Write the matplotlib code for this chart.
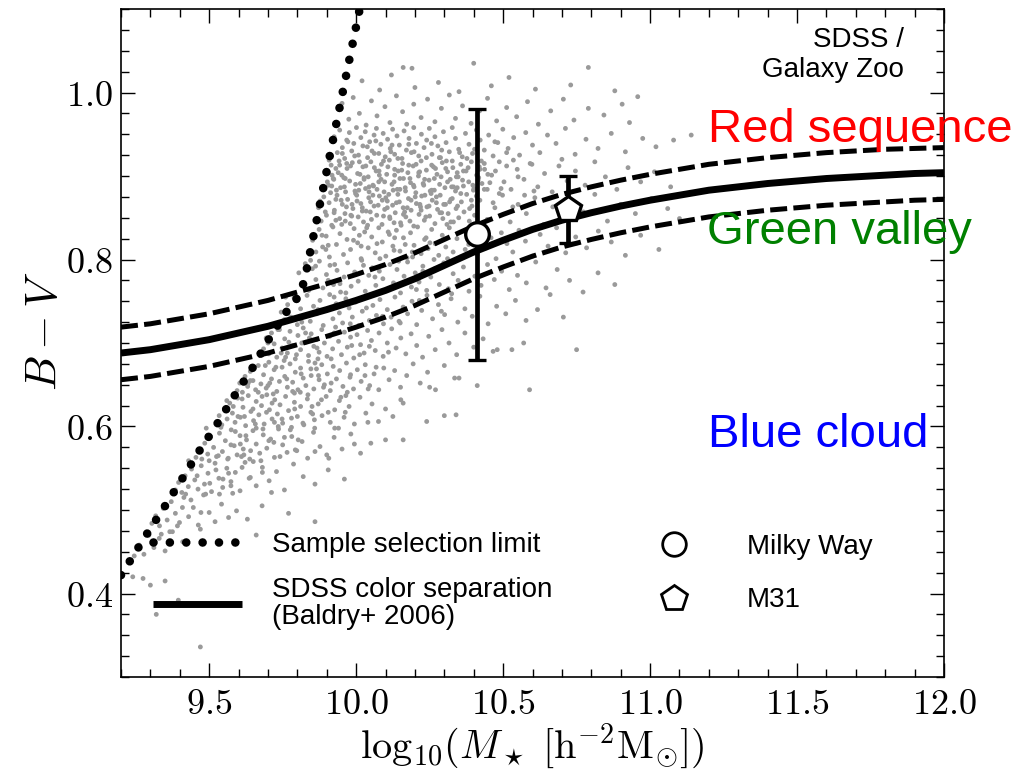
import numpy as np
import matplotlib
matplotlib.use("Agg")
import matplotlib.pyplot as plt
from matplotlib.ticker import MultipleLocator, FuncFormatter
from matplotlib.lines import Line2D

plt.rcParams['mathtext.fontset'] = 'cm'
plt.rcParams['font.family'] = ['Liberation Sans', 'DejaVu Sans']

# ---------------- data ----------------
# SDSS / Galaxy Zoo galaxies (log10 M*, B-V)
red_sequence_pts = [
 (10.02,1.014),(10.08,1.003),(10.16,1.030),(10.19,1.029),(10.20,1.006),(10.40,1.035),(10.28,1.012),(10.52,1.018),
 (10.61,1.004),(10.73,1.009),(10.79,1.030),(10.88,1.002),(10.35,1.001),(10.12,1.021),(10.46,1.008),
 (9.952,0.987),(9.975,0.968),(9.990,0.994),(10.011,0.975),(10.034,0.961),(10.052,0.990),(10.071,0.972),(10.098,0.983),
 (10.115,0.964),(10.137,0.996),(10.158,0.977),(10.172,0.962),(10.196,0.986),(10.221,0.970),(10.243,0.992),(10.268,0.965),
 (10.290,0.981),(10.317,0.997),(10.338,0.969),(10.362,0.984),(10.391,0.963),(10.420,0.978),(10.447,0.993),(10.478,0.966),
 (10.512,0.982),(10.546,0.971),(10.583,0.989),(10.620,0.962),(10.662,0.978),(10.705,0.992),(10.741,0.967),(10.790,0.981),
 (10.843,0.973),(10.905,0.986),(10.958,0.995),(10.930,0.964),
 (9.925,.947),(9.936,.928),(9.944,.955),(9.953,.934),(9.961,.921),(9.968,.943),(9.977,.952),(9.985,.930),(9.992,.939),
 (10.001,.958),(10.008,.925),(10.016,.946),(10.023,.936),(10.031,.953),(10.039,.922),(10.046,.941),(10.054,.930),
 (10.061,.949),(10.069,.957),(10.077,.927),(10.084,.938),(10.092,.951),(10.099,.923),(10.107,.944),(10.116,.933),
 (10.124,.956),(10.131,.926),(10.139,.948),(10.147,.937),(10.156,.921),(10.163,.954),(10.171,.931),(10.180,.945),
 (10.188,.928),(10.196,.958),(10.205,.939),(10.213,.924),(10.222,.950),(10.231,.934),(10.240,.943),(10.249,.957),
 (10.258,.926),(10.268,.947),(10.278,.936),(10.287,.922),(10.297,.953),(10.306,.940),(10.317,.929),(10.327,.958),
 (10.338,.945),(10.349,.932),(10.361,.923),(10.372,.951),(10.384,.938),(10.396,.927),(10.409,.955),(10.422,.943),
 (10.436,.931),(10.451,.949),(10.466,.924),(10.482,.940),(10.499,.956),(10.517,.933),(10.536,.946),(10.556,.925),
 (10.577,.952),(10.600,.937),(10.625,.928),(10.651,.949),(10.680,.939),(10.712,.957),(10.745,.926),(10.782,.944),
 (10.823,.933),(10.868,.951),(10.916,.929),(10.975,.945),(11.02,.935),(11.08,.943),(11.14,.949),
 (9.897,.905),(9.906,.889),(9.915,.913),(9.924,.896),(9.933,.883),(9.942,.918),(9.951,.901),(9.960,.887),(9.969,.909),
 (9.978,.894),(9.987,.916),(9.996,.882),(10.005,.903),(10.014,.891),(10.023,.911),(10.032,.885),(10.041,.899),
 (10.050,.917),(10.059,.888),(10.068,.906),(10.077,.893),(10.086,.914),(10.095,.881),(10.104,.902),(10.113,.919),
 (10.122,.890),(10.131,.908),(10.140,.884),(10.149,.897),(10.158,.915),(10.167,.886),(10.176,.904),(10.185,.892),
 (10.194,.912),(10.203,.880),(10.212,.900),(10.221,.918),(10.230,.889),(10.239,.907),(10.248,.895),(10.257,.913),
 (10.266,.883),(10.275,.902),(10.284,.890),(10.293,.916),(10.302,.886),(10.311,.905),(10.320,.896),(10.329,.910),
 (10.338,.882),(10.347,.899),(10.356,.914),(10.365,.888),(10.374,.906),(10.383,.893),(10.392,.917),(10.401,.885),
 (10.410,.901),(10.419,.911),(10.428,.891),(10.437,.908),(10.446,.884),
 (9.902,.893),(9.918,.901),(9.931,.909),(9.947,.886),(9.963,.897),(9.981,.912),(9.998,.890),(10.011,.917),(10.027,.898),
 (10.044,.887),(10.062,.910),(10.079,.901),(10.097,.893),(10.108,.911),(10.126,.883),(10.143,.906),(10.161,.897),
 (10.179,.913),(10.197,.887),(10.216,.905),(10.233,.896),(10.252,.882),(10.270,.909),(10.289,.899),(10.307,.918),
 (10.325,.887),(10.344,.904),(10.362,.895),(10.381,.910),(10.399,.883),(10.417,.898),(10.436,.915),(10.455,.892),
 (10.474,.906),(10.493,.885),(10.512,.912),
 (10.461,.901),(10.487,.917),(10.503,.893),(10.527,.884),(10.548,.908),(10.571,.896),(10.592,.915),(10.618,.887),
 (10.641,.903),(10.667,.881),(10.690,.912),(10.718,.894),(10.746,.906),(10.779,.889),(10.812,.917),(10.848,.899),
 (10.887,.884),(10.925,.910),(10.968,.893),(11.015,.905),(11.07,.887),(10.535,.919),(10.605,.882),(10.700,.920),
 (9.872,.862),(9.881,.846),(9.890,.875),(9.899,.853),(9.908,.868),(9.917,.841),(9.926,.859),(9.935,.877),(9.944,.849),
 (9.953,.866),(9.962,.855),(9.971,.872),(9.980,.843),(9.989,.861),(9.998,.879),(10.007,.851),(10.016,.867),(10.025,.845),
 (10.034,.858),(10.043,.874),(10.052,.848),(10.061,.864),(10.070,.853),(10.079,.876),(10.088,.842),(10.097,.860),
 (10.106,.870),(10.115,.849),(10.124,.865),(10.133,.856),(10.142,.878),(10.151,.844),(10.160,.862),(10.169,.851),
 (10.178,.873),(10.187,.859),(10.196,.840),(10.205,.867),(10.214,.854),(10.223,.876),(10.232,.847),(10.241,.863),
 (10.250,.852),(10.259,.871),(10.268,.843),(10.277,.860),(10.286,.877),(10.295,.849),(10.304,.866),(10.313,.855),
 (10.322,.872),(10.331,.845),(10.340,.861),(10.349,.850),(10.358,.869),(10.367,.857),(10.376,.878),(10.385,.846),
 (10.394,.864),(10.403,.853),
 (9.877,.870),(9.895,.857),(9.913,.880),(9.931,.847),(9.949,.871),(9.967,.863),(9.985,.852),(10.003,.870),(10.021,.862),
 (10.039,.841),(10.057,.877),(10.075,.865),(10.093,.852),(10.111,.878),(10.129,.844),(10.147,.869),(10.165,.857),
 (10.183,.846),(10.201,.875),(10.219,.863),(10.237,.851),(10.255,.879),(10.273,.868),(10.291,.856),(10.309,.842),
 (10.327,.873),(10.345,.864),
 (10.421,.871),(10.446,.848),(10.472,.862),(10.498,.877),(10.524,.845),(10.551,.866),(10.579,.855),(10.608,.874),
 (10.638,.842),(10.669,.863),(10.702,.851),(10.736,.869),(10.773,.857),(10.812,.878),(10.855,.846),(10.900,.866),
 (10.950,.855),(11.005,.873),(11.06,.861),(11.10,.849),
]
red_core_pts = [
 (10.013,.902),(10.187,.871),(9.944,.913),(10.352,.928),(10.071,.884),(10.266,.897),(9.986,.866),(10.142,.921),
 (10.409,.876),(10.038,.935),(10.221,.859),(9.917,.888),(10.305,.909),(10.114,.851),(10.448,.902),(10.002,.877),
 (10.179,.938),(10.257,.883),(9.958,.898),(10.386,.861),(10.093,.918),(10.331,.887),(10.049,.869),(10.213,.904),
 (9.931,.872),(10.129,.893),(10.426,.918),(10.285,.856),(10.062,.927),(10.168,.882),(9.972,.941),(10.341,.899),
 (10.101,.874),(10.239,.922),(10.397,.889),(10.021,.858),(10.155,.907),(10.273,.875),(9.908,.919),(10.085,.896),
 (10.318,.869),(10.197,.929),(10.436,.884),(10.033,.912),(10.248,.864),(9.964,.881),(10.122,.937),(10.365,.906),
 (10.057,.889),(10.291,.931),(10.174,.862),(9.995,.924),(10.415,.895),(10.137,.868),(10.228,.891),(9.925,.856),
 (10.078,.906),(10.356,.879),(10.044,.881),(10.204,.914),(10.311,.893),(9.953,.927),(10.106,.862),(10.263,.911),
 (10.392,.871),(10.027,.896),(10.149,.884),(10.327,.918),(9.982,.853),(10.234,.877),(10.067,.942),(10.183,.897),
 (10.421,.908),(9.939,.904),(10.298,.866),(10.118,.929),(10.009,.883),(10.377,.921),(10.161,.854),(10.256,.939),
 (10.089,.871),(9.968,.915),(10.344,.886),(10.217,.866),(10.131,.901),(10.283,.922),(10.048,.857),(10.403,.932),
 (9.922,.897),(10.195,.889),(10.466,.868),(10.512,.928),(10.487,.879),(10.551,.899),(10.472,.941),(10.533,.863),
 (10.598,.914),(10.573,.877),
 (9.884,.829),(10.017,.816),(10.153,.841),(9.927,.794),(10.238,.826),(10.064,.779),(9.963,.846),(10.192,.803),
 (10.109,.833),(9.897,.812),(10.284,.791),(10.036,.838),(9.945,.771),(10.167,.818),(10.322,.845),(10.081,.801),
 (9.991,.823),(10.227,.786),(9.862,.792),(10.129,.811),
]
green_valley_pts = [
 (9.852,.823),(9.863,.809),(9.874,.836),(9.886,.815),(9.898,.828),(9.909,.803),(9.921,.839),(9.933,.818),(9.945,.831),
 (9.957,.806),(9.969,.824),(9.981,.812),(9.993,.837),(10.005,.820),(10.017,.801),(10.029,.833),(10.041,.814),(10.053,.827),
 (10.065,.808),(10.077,.838),(10.089,.821),(10.101,.804),(10.113,.830),(10.125,.816),(10.137,.835),(10.149,.810),
 (10.161,.826),(10.173,.802),(10.185,.832),(10.197,.817),(10.209,.839),(10.221,.807),(10.233,.824),(10.245,.813),
 (10.257,.836),(10.269,.819),(10.281,.805),(10.293,.829),(10.305,.815),(10.317,.838),(10.330,.809),(10.343,.825),
 (10.356,.803),(10.369,.834),(10.383,.818),(10.397,.828),(10.412,.806),(10.427,.837),(10.443,.814),(10.459,.826),
 (10.476,.801),(10.494,.832),(10.513,.819),(10.533,.809),(10.554,.835),(10.576,.822),(10.600,.804),(10.626,.830),
 (10.653,.816),(10.682,.838),(10.713,.808),(10.747,.827),(10.784,.814),(10.824,.834),(10.868,.821),(10.916,.805),
 (10.968,.829),(11.03,.812),(9.905,.817),(9.951,.842),(10.011,.829),(10.071,.819),(10.131,.826),(10.191,.809),
 (10.251,.820),(10.311,.801),(10.371,.812),
 (9.805,.784),(9.816,.771),(9.827,.795),(9.839,.763),(9.851,.789),(9.863,.776),(9.875,.798),(9.887,.766),(9.899,.782),
 (9.911,.793),(9.923,.770),(9.935,.787),(9.947,.761),(9.959,.779),(9.971,.796),(9.983,.768),(9.995,.785),(10.007,.774),
 (10.019,.799),(10.031,.762),(10.043,.781),(10.055,.790),(10.067,.769),(10.079,.786),(10.091,.777),(10.103,.764),
 (10.115,.794),(10.127,.772),(10.139,.788),(10.151,.760),(10.163,.780),(10.175,.797),(10.188,.767),(10.201,.784),
 (10.214,.773),(10.227,.792),(10.240,.763),(10.254,.779),(10.268,.789),(10.283,.770),(10.298,.796),(10.314,.765),
 (10.330,.783),(10.347,.775),(10.365,.791),(10.384,.762),(10.404,.780),(10.425,.769),(10.447,.794),(10.470,.776),
 (10.495,.786),(10.521,.764),(10.549,.781),(10.579,.772),(10.611,.797),(10.646,.766),(10.684,.788),(10.726,.775),
 (10.772,.761),(10.823,.784),(10.880,.770),(9.845,.799),(9.905,.775),(9.965,.760),(10.025,.793),(10.085,.761),
 (10.145,.798),(10.205,.764),(10.265,.800),(10.325,.759),
 (9.735,.723),(9.745,.737),(9.756,.728),(9.767,.746),(9.778,.731),(9.789,.754),(9.800,.722),(9.811,.741),(9.822,.733),
 (9.833,.757),(9.844,.726),(9.855,.744),(9.866,.735),(9.877,.751),(9.888,.721),(9.899,.739),(9.910,.758),(9.921,.729),
 (9.932,.747),(9.943,.736),(9.954,.724),(9.965,.753),(9.976,.742),(9.987,.731),(9.998,.749),(10.009,.721),(10.021,.738),
 (10.033,.756),(10.045,.727),(10.057,.745),(10.069,.733),(10.081,.752),(10.093,.723),(10.106,.740),(10.119,.731),
 (10.132,.755),(10.146,.726),(10.160,.743),(10.175,.735),(10.190,.750),(10.206,.722),(10.223,.739),(10.241,.757),
 (10.260,.729),(10.280,.746),(10.301,.734),(10.323,.753),(10.346,.725),(10.370,.741),(10.395,.732),(10.421,.756),
 (10.449,.723),(10.478,.744),(10.509,.735),(10.542,.751),(10.578,.727),(10.617,.740),(10.660,.758),(10.705,.731),
 (9.760,.755),(9.815,.725),(9.870,.740),(9.925,.755),(9.980,.723),(10.035,.742),(10.090,.732),(10.150,.724),
 (10.215,.751),(10.290,.738),
]
blue_cloud_pts = [
 (9.685,.693),(9.694,.706),(9.703,.687),(9.712,.712),(9.721,.699),(9.730,.683),(9.739,.716),(9.748,.694),(9.757,.705),
 (9.766,.688),(9.775,.714),(9.784,.697),(9.793,.681),(9.802,.709),(9.811,.692),(9.820,.718),(9.829,.701),(9.838,.685),
 (9.847,.711),(9.856,.696),(9.865,.704),(9.874,.689),(9.883,.716),(9.892,.700),(9.901,.684),(9.910,.708),(9.920,.693),
 (9.930,.719),(9.940,.702),(9.950,.686),(9.960,.713),(9.970,.695),(9.981,.707),(9.992,.682),(10.003,.710),(10.015,.698),
 (10.027,.688),(10.039,.715),(10.052,.703),(10.065,.691),(10.078,.712),(10.092,.684),(10.106,.700),(10.121,.717),
 (10.136,.694),(10.152,.706),(10.169,.687),(10.187,.711),(10.206,.697),(10.226,.683),(10.247,.708),(10.269,.692),
 (10.292,.716),(10.316,.700),(10.342,.686),(10.370,.712),(10.400,.695),(10.432,.705),(10.466,.690),(10.480,.692),
 (10.530,.692),(10.570,.700),(10.750,.692),(9.700,.700),(9.760,.683),(9.815,.700),(9.870,.681),(9.925,.712),
 (9.985,.697),(10.045,.696),(10.110,.689),
 (9.595,.643),(9.604,.652),(9.613,.641),(9.622,.660),(9.631,.648),(9.640,.666),(9.649,.655),(9.658,.644),(9.667,.673),
 (9.676,.651),(9.685,.662),(9.694,.646),(9.703,.677),(9.712,.657),(9.721,.668),(9.730,.642),(9.739,.654),(9.748,.671),
 (9.757,.660),(9.766,.647),(9.775,.675),(9.784,.653),(9.793,.665),(9.802,.644),(9.811,.670),(9.820,.658),(9.829,.649),
 (9.838,.678),(9.847,.661),(9.856,.645),(9.865,.669),(9.874,.656),(9.883,.674),(9.892,.650),(9.902,.663),(9.912,.643),
 (9.922,.672),(9.933,.657),(9.944,.667),(9.955,.648),(9.967,.676),(9.979,.659),(9.991,.645),(10.004,.668),(10.017,.654),
 (10.031,.674),(10.046,.649),(10.061,.663),(10.077,.644),(10.094,.670),(10.112,.656),(10.131,.667),(10.151,.647),
 (10.172,.661),(10.194,.675),(10.218,.652),(10.243,.665),(10.270,.644),(10.300,.673),(10.335,.658),(10.350,.658),
 (10.412,.649),(10.590,.644),(10.250,.647),(10.160,.628),(9.640,.655),(9.700,.649),(9.755,.679),(9.810,.641),
 (9.860,.676),(9.915,.652),(9.970,.641),(10.030,.661),
 (9.525,.604),(9.534,.613),(9.543,.602),(9.552,.621),(9.561,.609),(9.570,.628),(9.579,.616),(9.588,.605),(9.597,.634),
 (9.606,.611),(9.615,.623),(9.624,.601),(9.633,.637),(9.642,.618),(9.651,.607),(9.660,.630),(9.669,.614),(9.678,.625),
 (9.687,.603),(9.696,.638),(9.705,.620),(9.714,.609),(9.723,.632),(9.732,.615),(9.741,.626),(9.750,.604),(9.760,.636),
 (9.770,.619),(9.780,.610),(9.790,.629),(9.800,.612),(9.811,.624),(9.822,.602),(9.834,.633),(9.846,.617),(9.858,.608),
 (9.871,.627),(9.884,.613),(9.898,.636),(9.912,.605),(9.927,.620),(9.943,.631),(9.959,.611),(9.976,.624),(9.994,.603),
 (10.013,.635),(10.033,.616),(10.054,.627),(10.076,.606),(10.100,.621),(10.125,.612),(10.152,.632),(10.240,.606),
 (10.300,.613),(10.340,.614),(10.160,.584),(10.100,.584),(9.560,.631),(9.620,.612),(9.680,.636),(9.735,.600),
 (9.790,.640),(9.850,.624),(9.905,.617),(9.965,.637),(10.040,.605),
 (9.455,.563),(9.465,.572),(9.475,.561),(9.485,.580),(9.495,.567),(9.505,.588),(9.515,.575),(9.525,.564),(9.535,.592),
 (9.545,.570),(9.555,.583),(9.565,.562),(9.575,.596),(9.585,.577),(9.595,.566),(9.605,.589),(9.616,.573),(9.627,.584),
 (9.638,.561),(9.649,.595),(9.660,.579),(9.672,.568),(9.684,.590),(9.696,.574),(9.709,.585),(9.722,.563),(9.736,.597),
 (9.750,.578),(9.765,.569),(9.781,.588),(9.798,.571),(9.816,.582),(9.835,.562),(9.855,.593),(9.877,.576),(9.900,.566),
 (9.925,.587),(9.952,.573),(9.982,.591),(10.015,.568),(10.050,.580),(9.490,.598),(9.540,.599),(9.610,.564),(9.660,.598),
 (9.720,.581),(9.780,.599),(9.860,.570),(9.940,.598),
 (9.385,.524),(9.396,.533),(9.407,.521),(9.418,.541),(9.429,.528),(9.440,.549),(9.451,.536),(9.462,.525),(9.473,.553),
 (9.484,.531),(9.496,.544),(9.508,.522),(9.520,.556),(9.533,.538),(9.546,.527),(9.560,.550),(9.574,.534),(9.589,.545),
 (9.605,.523),(9.622,.557),(9.640,.539),(9.660,.529),(9.681,.551),(9.704,.535),(9.729,.546),(9.756,.524),(9.787,.555),
 (9.820,.540),(9.860,.531),(9.905,.548),(9.960,.537),(9.430,.559),(9.500,.559),(9.580,.520),(9.650,.558),(9.712,.521),
 (9.305,.484),(9.318,.493),(9.331,.481),(9.344,.502),(9.357,.488),(9.371,.510),(9.385,.496),(9.399,.485),(9.414,.515),
 (9.430,.492),(9.446,.503),(9.463,.482),(9.481,.518),(9.500,.497),(9.520,.486),(9.542,.507),(9.566,.491),(9.593,.499),
 (9.630,.489),(9.680,.505),(9.770,.496),(9.860,.486),(9.420,.519),(9.535,.519),
 (9.245,.445),(9.262,.458),(9.278,.447),(9.295,.470),(9.312,.455),(9.330,.466),(9.350,.451),(9.375,.474),(9.410,.462),
 (9.470,.477),(9.660,.470),(9.240,.420),(9.275,.418),(9.300,.410),(9.350,.415),
 (9.320,.375),(9.470,.336),(9.395,.392),
]
blue_core_pts = [
 (9.612,.633),(9.745,.688),(9.683,.597),(9.828,.712),(9.574,.578),(9.706,.652),(9.791,.621),(9.641,.571),(9.867,.694),
 (9.722,.605),(9.598,.612),(9.813,.663),(9.756,.587),(9.667,.641),(9.889,.647),(9.734,.716),(9.625,.589),(9.784,.642),
 (9.691,.673),(9.852,.615),(9.563,.561),(9.771,.701),(9.649,.621),(9.803,.584),(9.714,.628),(9.872,.661),(9.589,.594),
 (9.748,.609),(9.676,.559),(9.836,.638),(9.633,.652),(9.797,.686),(9.703,.583),(9.859,.598),(9.618,.566),(9.764,.657),
 (9.695,.617),(9.841,.706),(9.657,.603),(9.727,.671),(9.819,.604),(9.582,.624),(9.741,.564),(9.882,.632),(9.669,.688),
 (9.776,.596),(9.606,.579),(9.846,.669),(9.718,.639),(9.793,.572),(9.915,.681),(9.948,.635),(9.981,.662),(9.927,.598),
 (10.012,.686),(9.963,.617),(10.041,.645),(9.907,.562),(9.994,.579),(10.068,.671),(9.523,.548),(9.547,.537),(9.502,.532),
 (9.566,.544),(9.488,.519),(9.531,.565),(9.459,.541),(9.612,.551),(9.574,.529),(9.438,.512),(9.636,.538),(9.681,.545),
 (9.409,.503),(9.366,.474),(9.337,.471),(9.392,.481),(9.472,.497),
]

# SDSS colour separation (Baldry+ 2006) and the band around it
curve_x = [9.2, 9.3, 9.4, 9.5, 9.6, 9.7, 9.8, 9.9, 10.0, 10.1, 10.2, 10.3, 10.4, 10.5, 10.6,
           10.7, 10.8, 10.9, 11.0, 11.1, 11.2, 11.3, 11.4, 11.5, 11.6, 11.7, 11.8, 11.9, 12.0]
separation_y = [0.688, 0.692, 0.698, 0.704, 0.712, 0.720, 0.730, 0.740, 0.751, 0.763, 0.777, 0.793, 0.809, 0.823, 0.836,
                0.847, 0.856, 0.864, 0.871, 0.877, 0.883, 0.887, 0.891, 0.894, 0.897, 0.899, 0.901, 0.903, 0.904]
upper_y = [0.719, 0.723, 0.729, 0.735, 0.743, 0.751, 0.761, 0.771, 0.782, 0.794, 0.808, 0.824, 0.840, 0.854, 0.867,
           0.878, 0.887, 0.895, 0.902, 0.908, 0.914, 0.918, 0.922, 0.925, 0.928, 0.930, 0.932, 0.933, 0.934]
lower_y = [0.656, 0.660, 0.666, 0.672, 0.680, 0.688, 0.698, 0.708, 0.719, 0.731, 0.745, 0.761, 0.777, 0.791, 0.804,
           0.815, 0.824, 0.832, 0.839, 0.845, 0.851, 0.855, 0.859, 0.862, 0.865, 0.867, 0.869, 0.871, 0.872]

# sample selection limit
selection_x = [9.200, 9.220, 9.282, 9.343, 9.404, 9.465, 9.527, 9.588, 9.649, 9.707, 9.768, 9.809, 9.826, 9.843,
               9.860, 9.890, 9.920, 9.950, 9.986, 10.015]
selection_y = [0.422, 0.433, 0.468, 0.501, 0.535, 0.570, 0.603, 0.638, 0.671, 0.707, 0.740, 0.758, 0.778, 0.808,
               0.837, 0.889, 0.941, 0.993, 1.055, 1.105]

# Milky Way and M31
mw_x, mw_y, mw_err = 10.41, 0.83, 0.15
m31_x, m31_y, m31_err = 10.72, 0.86, 0.04

# ---------------- plot ----------------
fig = plt.figure(figsize=(10.28, 7.73), dpi=100)
ax = fig.add_axes([121/1028, (773-677)/773, 823/1028, 668/773])

pts = red_sequence_pts + red_core_pts + green_valley_pts + blue_cloud_pts + blue_core_pts
sx = [p[0] for p in pts]
sy = [p[1] for p in pts]
ax.scatter(sx, sy, s=12, c='#9a9a9a', edgecolors='none', zorder=1)

dash_style = (0, (3.4, 1.25))
ax.plot(curve_x, upper_y, color='black', lw=3.6, linestyle=dash_style, zorder=3)
ax.plot(curve_x, lower_y, color='black', lw=3.6, linestyle=dash_style, zorder=3)
sep_line, = ax.plot(curve_x, separation_y, color='black', lw=5.0, solid_capstyle='butt',
                    solid_joinstyle='round', zorder=4)
sel_line, = ax.plot(selection_x, selection_y, color='black', lw=6.2, linestyle=(0, (0.001, 1.9)),
                    dash_capstyle='round', zorder=4)

ax.errorbar([mw_x], [mw_y], yerr=[mw_err], fmt='o', ms=17, mfc='white', mec='black', mew=2.4,
            ecolor='black', elinewidth=3.4, capsize=6.5, capthick=3.4, zorder=6)
ax.errorbar([m31_x], [m31_y], yerr=[m31_err], fmt='p', ms=19, mfc='white', mec='black', mew=2.4,
            ecolor='black', elinewidth=3.4, capsize=6.5, capthick=3.4, zorder=6)

ax.set_xlim(9.2, 12.0)
ax.set_ylim(0.3, 1.1)
ax.xaxis.set_major_locator(MultipleLocator(0.5))
ax.xaxis.set_minor_locator(MultipleLocator(0.1))
ax.yaxis.set_major_locator(MultipleLocator(0.2))
ax.yaxis.set_minor_locator(MultipleLocator(0.025))
fmt = FuncFormatter(lambda v, p: r'$%.1f$' % v)
ax.xaxis.set_major_formatter(fmt)
ax.yaxis.set_major_formatter(fmt)
ax.tick_params(which='both', direction='in', top=True, right=True, width=1.0, colors='black')
ax.tick_params(which='major', length=10, labelsize=26)
ax.tick_params(which='minor', length=6)
ax.tick_params(axis='x', which='major', pad=7)
ax.tick_params(axis='y', which='major', pad=6)
for sp in ax.spines.values():
    sp.set_linewidth(1.2)

ax.set_xlabel(r'$\mathrm{log}_{10}(M_\star\ [\mathrm{h}^{-2}\mathrm{M}_{\odot}])$', fontsize=29)
ax.set_ylabel(r'$B - V$', fontsize=32)
ax.xaxis.set_label_coords(0.5, -0.103)
ax.xaxis.label.set_va('center')
ax.yaxis.set_label_coords(-0.092, 0.518)
ax.yaxis.label.set_va('center')

# region annotations
ax.text(11.197, 0.941, 'Red sequence', color='#ff0000', fontsize=34, va='baseline', ha='left')
ax.text(11.193, 0.818, 'Green valley', color='#008000', fontsize=34, va='baseline', ha='left')
ax.text(11.197, 0.575, 'Blue cloud', color='#0000ff', fontsize=34, va='baseline', ha='left')
ax.text(0.951, 0.9425, 'SDSS /', transform=ax.transAxes, fontsize=20, ha='right', va='baseline')
ax.text(0.951, 0.8975, 'Galaxy Zoo', transform=ax.transAxes, fontsize=20, ha='right', va='baseline')

# legends
leg1 = ax.legend([sel_line, sep_line], ['Sample selection limit', 'SDSS color separation\n(Baldry+ 2006)'],
                 loc='upper left', bbox_to_anchor=(0.039, 0.217), frameon=False, fontsize=20,
                 handlelength=3.2, handletextpad=1.08, labelspacing=0.7, borderpad=0, borderaxespad=0)
for t in leg1.get_texts():
    t.set_linespacing(1.05)
ax.add_artist(leg1)
mw_h = Line2D([], [], linestyle='none', marker='o', ms=17, mfc='white', mec='black', mew=2.0)
m31_h = Line2D([], [], linestyle='none', marker='p', ms=19, mfc='white', mec='black', mew=2.0)
ax.legend([mw_h, m31_h], ['Milky Way', 'M31'], loc='upper left', bbox_to_anchor=(0.638, 0.2145),
          frameon=False, fontsize=20, numpoints=1, handlelength=2.0, handletextpad=1.63,
          labelspacing=1.0, borderpad=0, borderaxespad=0)

fig.savefig('out.png', dpi=100)
